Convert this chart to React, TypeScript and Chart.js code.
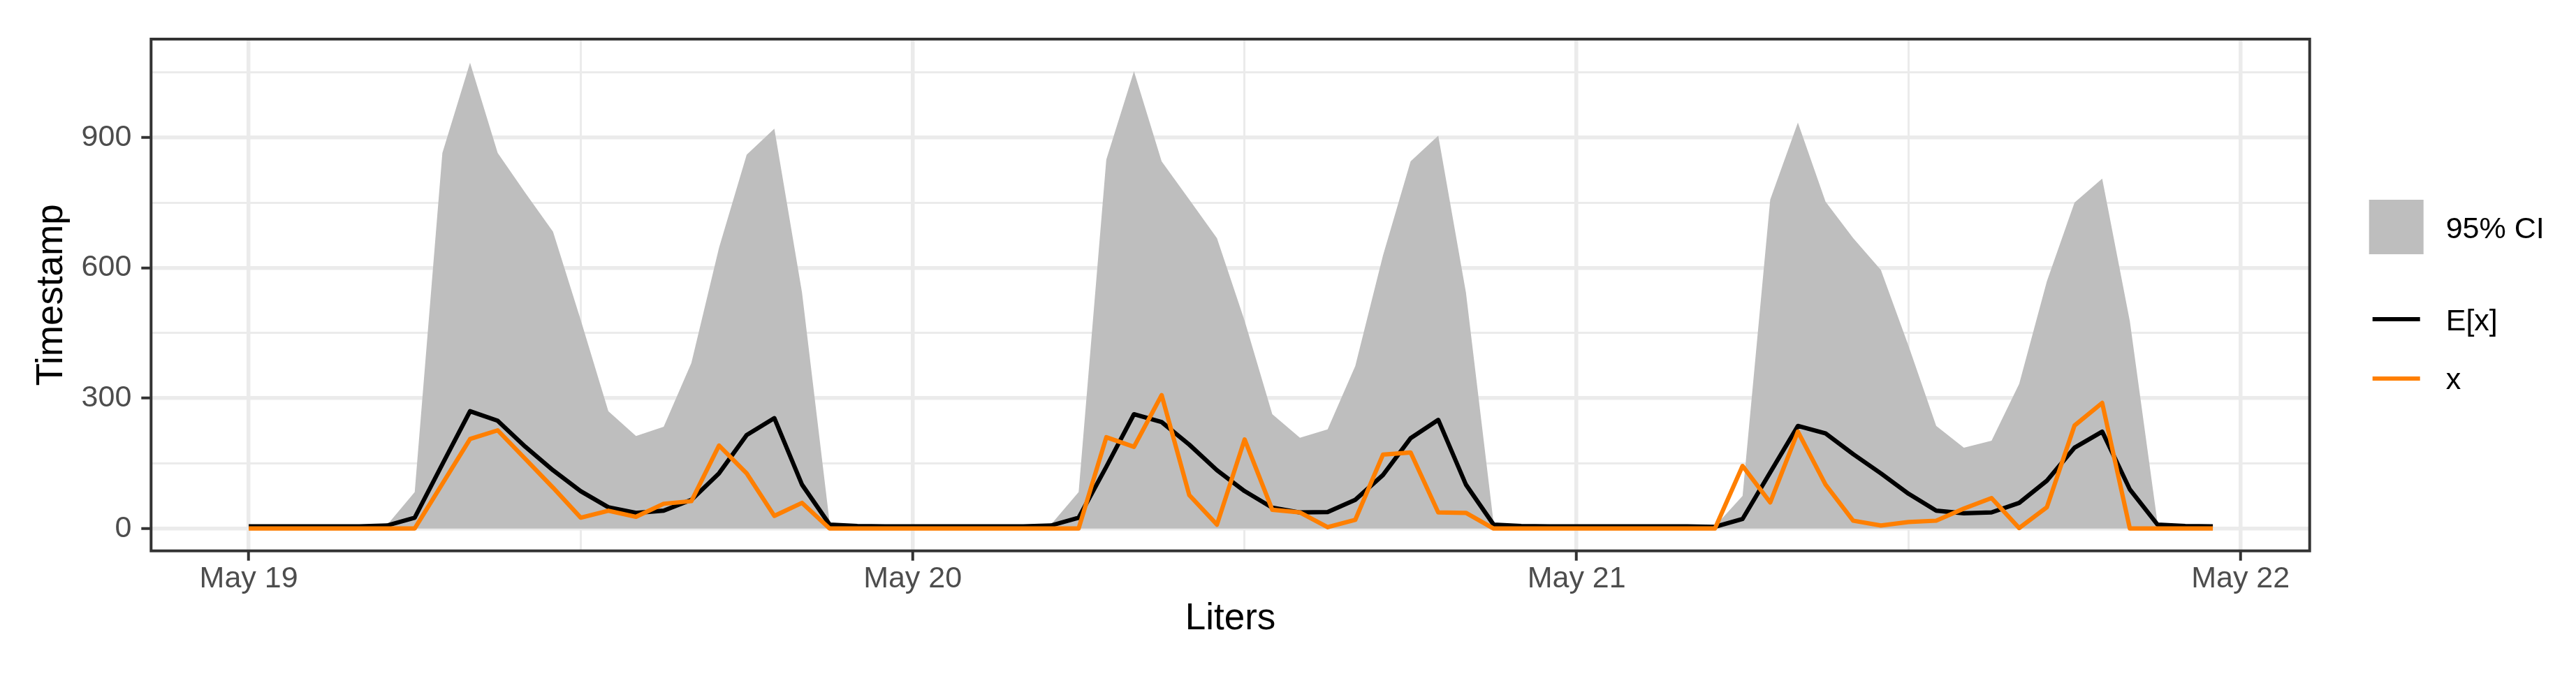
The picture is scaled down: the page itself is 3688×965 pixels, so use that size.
import React, { useEffect, useRef } from 'react';
import { Chart, registerables } from 'chart.js';

Chart.register(...registerables);

// Hours since May 19 00:00 (hourly observations)
const hours: number[] = Array.from({ length: 72 }, (_, i) => i);
const dayLabels = ['May 19', 'May 20', 'May 21', 'May 22'];
const xTicks = [0, 12, 24, 36, 48, 60, 72];
const yTicks = [0, 150, 300, 450, 600, 750, 900, 1050];

// observed x
const observed = [
  0, 0, 0, 0, 0, 0, 0, 103, 206, 226, 160, 94,
  25, 41, 27, 57, 63, 191, 127, 29, 59, 0, 0, 0,
  0, 0, 0, 0, 0, 0, 0, 210, 188, 307, 77, 9,
  205, 43, 37, 3, 20, 170, 175, 37, 36, 0, 0, 0,
  0, 0, 0, 0, 0, 0, 144, 60, 223, 101, 18, 7,
  15, 18, 46, 70, 1, 49, 237, 289, 0, 0, 0, 0,
];

// expected E[x]
const expected = [
  5, 5, 5, 5, 5, 7, 25, 148, 270, 248, 188, 134,
  86, 49, 36, 41, 66, 127, 215, 254, 101, 9, 6, 5,
  5, 5, 5, 5, 5, 7, 25, 142, 263, 245, 193, 134,
  86, 48, 37, 38, 66, 123, 208, 250, 101, 9, 6, 5,
  5, 5, 5, 5, 5, 4, 22, 129, 236, 219, 171, 127,
  80, 41, 35, 37, 59, 110, 186, 223, 90, 9, 6, 5,
];

// 95% CI upper bound
const ciUpper = [
  6, 6, 6, 6, 6, 8, 84, 864, 1072, 864, 772, 683,
  480, 270, 213, 234, 381, 646, 860, 920, 543, 13, 8, 6,
  6, 6, 6, 6, 6, 9, 84, 849, 1052, 845, 757, 668,
  478, 263, 209, 228, 374, 628, 845, 904, 543, 13, 8, 6,
  6, 6, 6, 6, 6, 5, 75, 757, 934, 752, 668, 595,
  420, 236, 186, 202, 333, 569, 750, 805, 477, 13, 8, 6,
];

// 95% CI lower bound
const ciLower = [
  0, 0, 0, 0, 0, 0, 0, 0, 0, 0, 0, 0,
  0, 0, 0, 0, 0, 0, 0, 0, 0, 0, 0, 0,
  0, 0, 0, 0, 0, 0, 0, 0, 0, 0, 0, 0,
  0, 0, 0, 0, 0, 0, 0, 0, 0, 0, 0, 0,
  0, 0, 0, 0, 0, 0, 0, 0, 0, 0, 0, 0,
  0, 0, 0, 0, 0, 0, 0, 0, 0, 0, 0, 0,
];

const W = 3688;
const H = 965;
const FAMILY = '"Liberation Sans", Arial, Helvetica, sans-serif';
const GRID = '#EBEBEB';
const DARK = '#333333';
const ORANGE = '#FF7F00';
const RIBBON = '#BEBEBE';
const LINE_W = 6.2;

export default function App() {
  const ref = useRef<HTMLCanvasElement>(null);

  useEffect(() => {
    document.body.style.margin = '0';
    const canvas = ref.current;
    if (!canvas) return;
    const toXY = (arr: number[]) => arr.map((y, i) => ({ x: hours[i], y }));

    const panelPlugin = {
      id: 'panelBorder',
      afterDatasetsDraw(chart: any) {
        const { ctx, chartArea: a } = chart;
        ctx.save();
        ctx.strokeStyle = DARK;
        ctx.lineWidth = 4;
        ctx.strokeRect(a.left, a.top, a.right - a.left, a.bottom - a.top);
        ctx.restore();
      },
    };

    const legendPlugin = {
      id: 'ggLegend',
      afterDraw(chart: any) {
        const { ctx, chartArea: a } = chart;
        const x0 = a.right + 85;
        const tx = a.right + 195;
        ctx.save();
        ctx.fillStyle = RIBBON;
        ctx.fillRect(x0, 286, 78, 78);
        ctx.lineCap = 'butt';
        ctx.lineWidth = LINE_W;
        ctx.strokeStyle = '#000000';
        ctx.beginPath();
        ctx.moveTo(x0 + 5, 457);
        ctx.lineTo(x0 + 73, 457);
        ctx.stroke();
        ctx.strokeStyle = ORANGE;
        ctx.beginPath();
        ctx.moveTo(x0 + 5, 542);
        ctx.lineTo(x0 + 73, 542);
        ctx.stroke();
        ctx.fillStyle = '#000000';
        ctx.font = `43px ${FAMILY}`;
        ctx.textAlign = 'left';
        ctx.textBaseline = 'alphabetic';
        ctx.fillText('95% CI', tx, 341);
        ctx.fillText('E[x]', tx, 473);
        ctx.fillText('x', tx, 557);
        ctx.restore();
      },
    };

    const isMajorX = (c: any) => c.tick && c.tick.value % 24 === 0;
    const isMajorY = (c: any) => c.tick && c.tick.value % 300 === 0;

    const chart = new Chart(canvas, {
      type: 'line',
      data: {
        datasets: [
          {
            label: 'x',
            data: toXY(observed),
            borderColor: ORANGE,
            borderWidth: LINE_W,
            pointRadius: 0,
            fill: false,
            tension: 0,
            borderJoinStyle: 'round',
          },
          {
            label: 'E[x]',
            data: toXY(expected),
            borderColor: '#000000',
            borderWidth: LINE_W,
            pointRadius: 0,
            fill: false,
            tension: 0,
            borderJoinStyle: 'round',
          },
          {
            label: '95% CI',
            data: toXY(ciUpper),
            borderColor: 'rgba(0,0,0,0)',
            borderWidth: 0,
            backgroundColor: RIBBON,
            pointRadius: 0,
            fill: '+1',
            tension: 0,
          },
          {
            label: 'lower',
            data: toXY(ciLower),
            borderColor: 'rgba(0,0,0,0)',
            borderWidth: 0,
            pointRadius: 0,
            fill: false,
            tension: 0,
          },
        ],
      } as any,
      options: {
        responsive: false,
        animation: false,
        devicePixelRatio: 1,
        layout: { padding: { left: 0, top: 56, right: 381.3, bottom: 0 } },
        plugins: { legend: { display: false }, tooltip: { enabled: false } },
        scales: {
          x: {
            type: 'linear',
            min: -3.53,
            max: 74.5,
            afterBuildTicks: (s: any) => {
              s.ticks = xTicks.map((v) => ({ value: v }));
            },
            afterFit: (s: any) => {
              s.height = H - 788.7;
            },
            border: { display: false },
            grid: {
              color: GRID,
              lineWidth: (c: any) => (isMajorX(c) ? 5.5 : 3),
              drawTicks: true,
              tickLength: 14,
              tickWidth: 4,
              tickColor: (c: any) => (isMajorX(c) ? DARK : 'rgba(0,0,0,0)'),
            },
            ticks: {
              autoSkip: false,
              maxRotation: 0,
              minRotation: 0,
              padding: 5,
              color: '#4D4D4D',
              font: { family: FAMILY, size: 43, lineHeight: 1 },
              callback: (v: any) => (Number(v) % 24 === 0 ? dayLabels[Number(v) / 24] : ''),
            },
            title: {
              display: true,
              text: 'Liters',
              color: '#000000',
              font: { family: FAMILY, size: 53, lineHeight: 1 },
              padding: { top: 0, bottom: 52.5 },
            },
          },
          y: {
            type: 'linear',
            min: -51.4,
            max: 1126.1,
            afterBuildTicks: (s: any) => {
              s.ticks = yTicks.map((v) => ({ value: v }));
            },
            afterFit: (s: any) => {
              s.width = 216.3;
            },
            border: { display: false },
            grid: {
              color: GRID,
              lineWidth: (c: any) => (isMajorY(c) ? 5.5 : 3),
              drawTicks: true,
              tickLength: 14,
              tickWidth: 4,
              tickColor: (c: any) => (isMajorY(c) ? DARK : 'rgba(0,0,0,0)'),
            },
            ticks: {
              autoSkip: false,
              padding: 14,
              color: '#4D4D4D',
              font: { family: FAMILY, size: 43, lineHeight: 1 },
              callback: (v: any) => (Number(v) % 300 === 0 ? String(v) : ''),
            },
            title: {
              display: true,
              text: 'Timestamp',
              color: '#000000',
              font: { family: FAMILY, size: 53, lineHeight: 1 },
              padding: { top: 47.5, bottom: 0 },
            },
          },
        },
      } as any,
      plugins: [panelPlugin, legendPlugin],
    });

    return () => chart.destroy();
  }, []);

  return (
    <div style={{ position: 'absolute', left: 0, top: 0, width: W, height: H, background: '#FFFFFF' }}>
      <canvas ref={ref} width={W} height={H} style={{ width: W, height: H, display: 'block' }} />
    </div>
  );
}
